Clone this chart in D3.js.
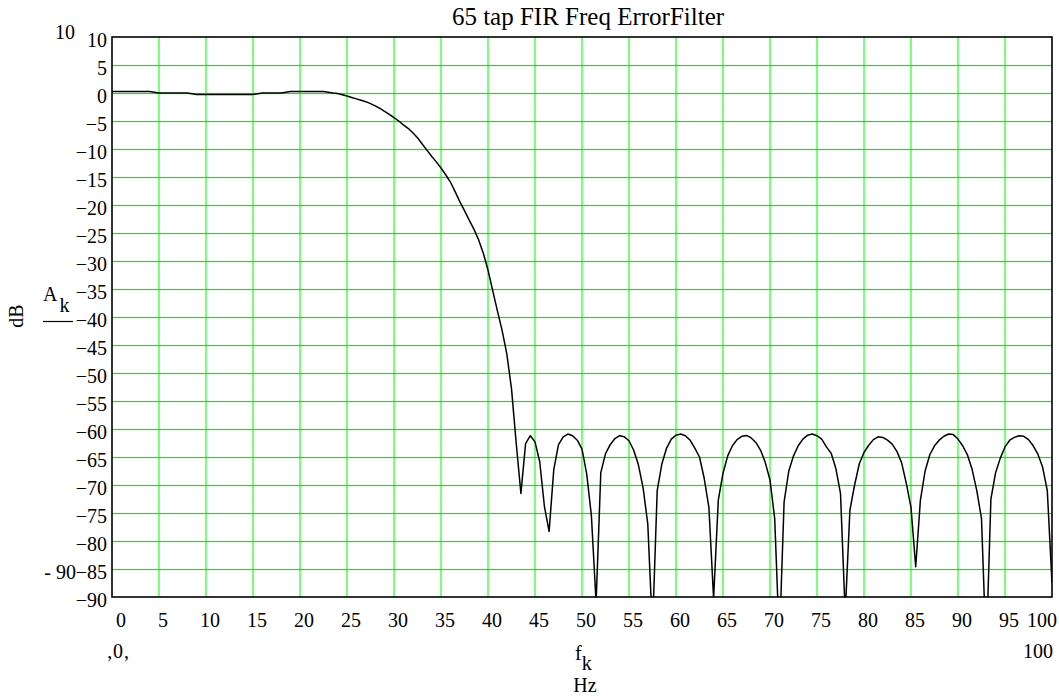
<!DOCTYPE html>
<html lang="en">
<head>
    <meta charset="UTF-8">
    <title>65 tap FIR Freq ErrorFilter</title>
    <script src="https://d3js.org/d3.v7.min.js"></script>
    <style>
        body {margin: 0; background: white;}
        svg text {font-family: "Liberation Serif", "Times New Roman", serif; fill: black;}
    </style>
</head>
<body>
<script>
    const width = 1059;
    const height = 696;

    // plot frame
    const plotLeft = 112, plotRight = 1052, plotTop = 37, plotBottom = 597;

    const freqStep = 0.5;
    const gainDb = [
        0.25, 0.25, 0.25, 0.25, 0.25, 0.25, 0.25, 0.25, 0.25, 0.15,
        0, 0, 0, 0, 0, 0, 0, -0.12, -0.25, -0.25,
        -0.25, -0.25, -0.25, -0.25, -0.25, -0.25, -0.25, -0.25, -0.25, -0.25,
        -0.25, -0.12, 0, 0, 0, 0, 0, 0.12, 0.25, 0.25,
        0.25, 0.25, 0.25, 0.25, 0.25, 0.25, 0.12, 0, -0.1, -0.3,
        -0.55, -0.8, -1.05, -1.3, -1.55, -1.9, -2.3, -2.75, -3.3, -3.8,
        -4.4, -5.0, -5.7, -6.3, -7.1, -8.0, -9.1, -10.2, -11.3, -12.3,
        -13.4, -14.6, -15.9, -17.6, -19.4, -21.0, -22.7, -24.3, -26.2, -28.6,
        -31.6, -35.3, -38.9, -42.4, -46.6, -52.8, -62.5, -71.5, -62.6, -61.2,
        -62.3, -65.8, -73.8, -78.3, -67.2, -62.8, -61.4, -60.9, -61.2, -62.0,
        -63.6, -68.0, -75.5, -91.0, -67.8, -64.4, -62.8, -61.7, -61.2, -61.4,
        -62.1, -63.8, -66.4, -70.5, -77.0, -96.0, -71.0, -66.2, -63.4, -61.8,
        -61.1, -60.9, -61.2, -62.0, -63.4, -65.0, -68.8, -74.0, -90.3, -72.7,
        -67.9, -64.8, -63.0, -61.9, -61.3, -61.15, -61.6, -62.4, -63.8, -66.0,
        -69.1, -76.0, -98.0, -73.0, -67.5, -64.8, -63.0, -61.8, -61.1, -60.9,
        -61.2, -61.8, -63.2, -64.3, -67.0, -71.5, -93.0, -74.5, -70.0, -66.2,
        -64.2, -62.9, -61.9, -61.4, -61.5, -62.0, -62.7, -64.0, -66.0, -69.7,
        -74.0, -84.6, -72.7, -67.5, -64.6, -63.0, -62.0, -61.3, -60.9, -61.0,
        -61.8, -63.0, -64.6, -67.2, -71.0, -76.0, -100.0, -72.5, -67.8, -65.2,
        -63.2, -62.0, -61.5, -61.2, -61.3, -61.9, -63.0, -64.5, -66.8, -71.0,
        -87.5
    ];

    const xTicks = [0, 5, 10, 15, 20, 25, 30, 35, 40, 45, 50, 55, 60, 65, 70, 75, 80, 85, 90, 95, 100];
    const yTicks = [10, 5, 0, -5, -10, -15, -20, -25, -30, -35, -40, -45, -50, -55, -60, -65, -70, -75, -80, -85, -90];

    const svg = d3.select("body").append("svg")
            .attr("width", width).attr("height", height);

    const x = d3.scaleLinear().domain([0, 100]).range([plotLeft, plotRight]);
    const y = d3.scaleLinear().domain([-90, 10]).range([plotBottom, plotTop]);

    // green grid: thin filled strips
    svg.append("g").selectAll("rect")
            .data(xTicks.filter(d => d > 0 && d < 100))
            .join("rect")
            .attr("x", d => x(d) - 0.7)
            .attr("y", plotTop)
            .attr("width", 1.4)
            .attr("height", plotBottom - plotTop)
            .style("fill", "#40ff40");

    svg.append("g").selectAll("rect")
            .data(yTicks.filter(d => d > -90 && d < 10))
            .join("rect")
            .attr("x", plotLeft)
            .attr("y", d => Math.round(y(d)) - 0.1)
            .attr("width", plotRight - plotLeft)
            .attr("height", 1.2)
            .style("fill", "#00f000");

    // trace, clipped to the frame
    svg.append("clipPath").attr("id", "plotClip")
            .append("rect")
            .attr("x", plotLeft).attr("y", plotTop)
            .attr("width", plotRight - plotLeft).attr("height", plotBottom - plotTop);

    const line = d3.line()
            .x((d, i) => x(i * freqStep))
            .y(d => y(d));

    svg.append("path")
            .datum(gainDb)
            .attr("clip-path", "url(#plotClip)")
            .attr("d", line)
            .style("fill", "none")
            .style("stroke", "black")
            .style("stroke-width", 1.5)
            .style("stroke-linejoin", "round");

    // frame
    svg.append("rect")
            .attr("x", plotLeft).attr("y", plotTop)
            .attr("width", plotRight - plotLeft).attr("height", plotBottom - plotTop)
            .style("fill", "none")
            .style("stroke", "black")
            .style("stroke-width", 1.6);

    // axes (labels only, Mathcad style)
    const yAxis = svg.append("g")
            .attr("transform", "translate(" + (plotLeft - 5) + ",3.5)")
            .call(d3.axisLeft(y).tickValues(yTicks).tickSize(0).tickPadding(0));
    yAxis.select(".domain").remove();
    yAxis.selectAll("text")
            .style("font-size", "20px")
            .style("font-family", "Liberation Serif, serif");

    const xAxis = svg.append("g")
            .attr("transform", "translate(0," + (plotBottom + 16) + ")")
            .call(d3.axisBottom(x).tickValues(xTicks).tickSize(0).tickPadding(0));
    xAxis.select(".domain").remove();
    xAxis.selectAll(".tick")
            .attr("transform", d => "translate(" + (x(d) + (d === 0 ? 9 : d === 100 ? -10 : 4)) + ",0)");
    xAxis.selectAll("text")
            .style("font-size", "20px")
            .style("font-family", "Liberation Serif, serif");

    // title
    svg.append("text")
            .attr("x", 588).attr("y", 25)
            .attr("text-anchor", "middle")
            .style("font-size", "25px")
            .text("65 tap FIR Freq ErrorFilter");

    // range markers
    svg.append("text").attr("x", 75).attr("y", 39)
            .attr("text-anchor", "end").style("font-size", "20px").text("10");
    svg.append("text").attr("x", 76).attr("y", 579)
            .attr("text-anchor", "end").style("font-size", "20px").text("- 90");
    svg.append("text").attr("x", 118).attr("y", 658)
            .attr("text-anchor", "middle").style("font-size", "20px").text("\u201A0\u201A");
    svg.append("text").attr("x", 1053).attr("y", 658)
            .attr("text-anchor", "end").style("font-size", "20px").text("100");

    // x label: f with subscript k, then the unit
    const fLabel = svg.append("text").attr("x", 575).attr("y", 660)
            .style("font-size", "20px");
    fLabel.append("tspan").text("f");
    fLabel.append("tspan").attr("dx", 0).attr("dy", 10).text("k");
    svg.append("text").attr("x", 585).attr("y", 692)
            .attr("text-anchor", "middle").style("font-size", "20px").text("Hz");

    // y label: A with subscript k over a bar, dB rotated
    const aLabel = svg.append("text").attr("x", 43).attr("y", 301)
            .style("font-size", "20px");
    aLabel.append("tspan").text("A");
    aLabel.append("tspan").attr("dx", 2).attr("dy", 11).text("k");
    svg.append("line")
            .attr("x1", 43).attr("x2", 73).attr("y1", 321.5).attr("y2", 321.5)
            .style("stroke", "black").style("stroke-width", 1.2);
    svg.append("text")
            .attr("transform", "translate(23,316) rotate(-90)")
            .attr("text-anchor", "middle")
            .style("font-size", "20px")
            .text("dB");
</script>
</body>
</html>
